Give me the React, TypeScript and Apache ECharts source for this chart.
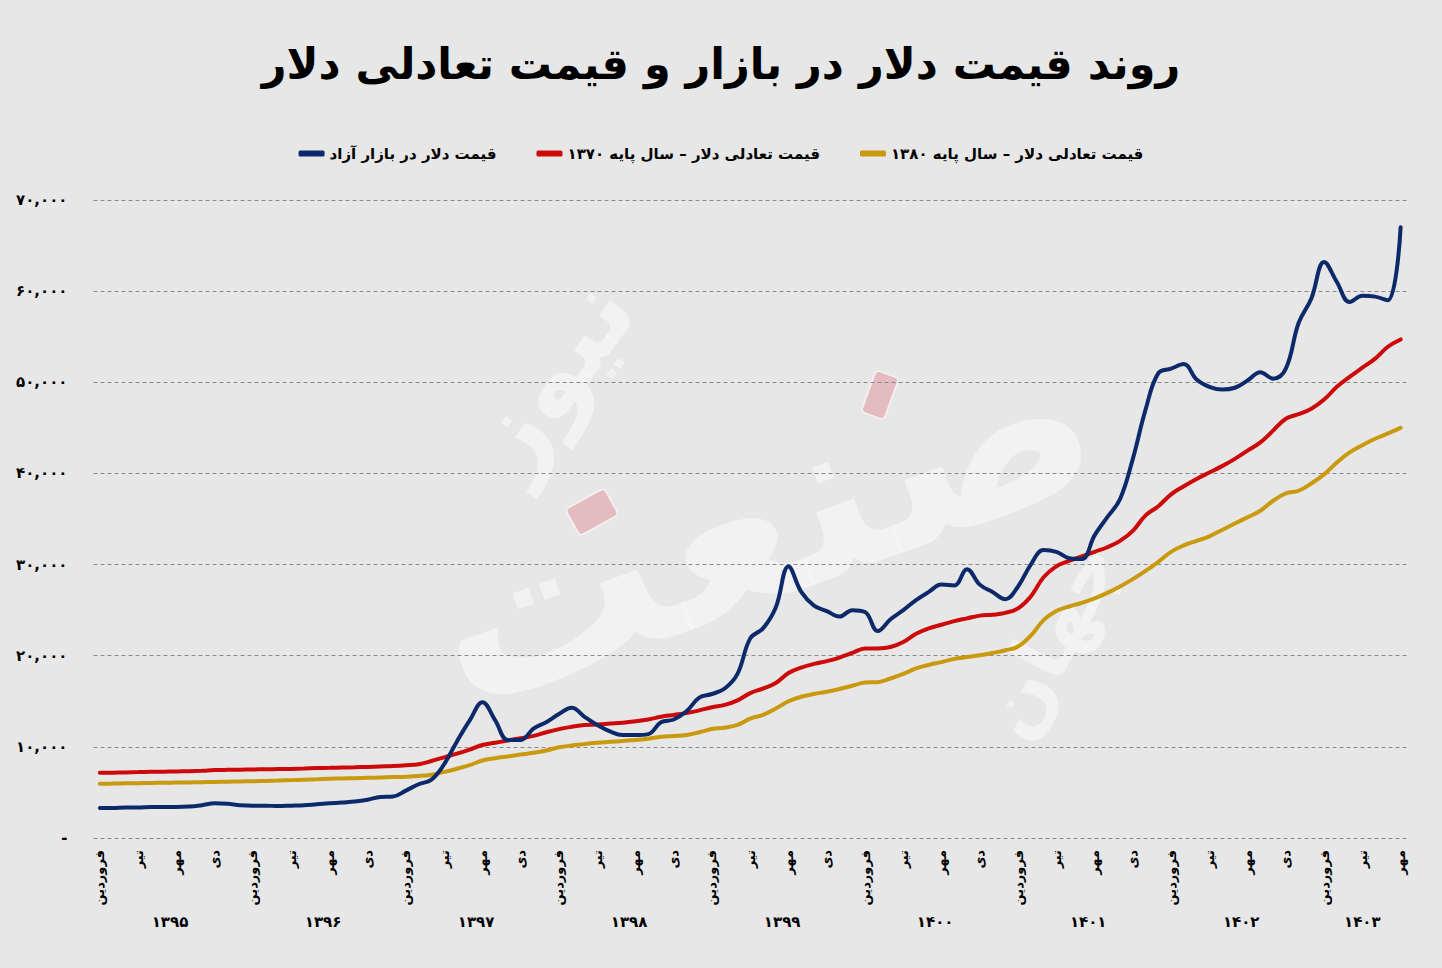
import React, { useEffect, useRef } from 'react';
import * as echarts from 'echarts';

const YEARS = [1395, 1396, 1397, 1398, 1399, 1400, 1401, 1402, 1403];
const MONTHS = ['فروردین', 'اردیبهشت', 'خرداد', 'تیر', 'مرداد', 'شهریور', 'مهر', 'آبان', 'آذر', 'دی', 'بهمن', 'اسفند'];
const LAST_YEAR_MONTHS = 7;

const TITLE = 'روند قیمت دلار در بازار و قیمت تعادلی دلار';
const SERIES_NAMES = [
  'قیمت دلار در بازار آزاد',
  'قیمت تعادلی دلار – سال پایه ۱۳۷۰',
  'قیمت تعادلی دلار – سال پایه ۱۳۸۰',
];
const COLORS = ['#0c2a6a', '#cc0a0a', '#c99a0e'];
const WATERMARK = ['صنعت', 'نیوز', 'جهان'];

const Y_MIN = 0;
const Y_MAX = 70000;
const Y_INTERVAL = 10000;

// free market dollar price (monthly, 1395/01 .. 1403/07)
const marketPrice = [
  3300, 3300, 3350, 3350, 3400, 3400, 3400, 3450, 3600, 3800, 3750, 3600,
  3550, 3550, 3500, 3550, 3600, 3700, 3800, 3900, 4000, 4200, 4500, 4550,
  5200, 5900, 6400, 8100, 10600, 12900, 14900, 12900, 10750, 10750, 12000, 12700,
  13600, 14300, 13300, 12400, 11700, 11300, 11300, 11400, 12700, 13000, 13900, 15400,
  15800, 16400, 18000, 21900, 23000, 25300, 29800, 27000, 25500, 24900, 24300, 25000,
  24800, 22700, 24000, 25000, 26100, 27000, 27800, 27700, 29500, 27800, 27000, 26200,
  27600, 30000, 31600, 31400, 30700, 30600, 33200, 35200, 37200, 41600, 47000, 51000,
  51500, 52000, 50300, 49500, 49200, 49400, 50200, 51100, 50400, 51500, 56500, 59200,
  63200, 61000, 58800, 59500, 59400, 59000, 67000,
];

// equilibrium price, base year 1370
const equilibrium1370 = [
  7150, 7170, 7200, 7230, 7260, 7280, 7300, 7330, 7380, 7450, 7480, 7500,
  7520, 7540, 7560, 7580, 7620, 7670, 7700, 7730, 7760, 7800, 7850, 7900,
  7980, 8100, 8450, 8850, 9250, 9700, 10200, 10450, 10700, 10950, 11200, 11600,
  11950, 12200, 12400, 12450, 12550, 12650, 12800, 13000, 13300, 13500, 13700, 14000,
  14350, 14600, 15100, 15900, 16400, 17000, 18100, 18700, 19100, 19400, 19800, 20300,
  20800, 20800, 20950, 21500, 22400, 23000, 23400, 23800, 24100, 24400, 24500, 24700,
  25200, 26500, 28600, 29800, 30400, 30900, 31400, 31900, 32600, 33700, 35400, 36400,
  37700, 38600, 39400, 40100, 40800, 41600, 42500, 43400, 44700, 46000, 46500, 47100,
  48100, 49500, 50600, 51600, 52600, 53900, 54700,
];

// equilibrium price, base year 1380
const equilibrium1380 = [
  5950, 5970, 6000, 6020, 6040, 6060, 6080, 6100, 6120, 6150, 6180, 6200,
  6230, 6260, 6300, 6350, 6400, 6450, 6500, 6530, 6560, 6600, 6640, 6680,
  6720, 6800, 6950, 7250, 7600, 8000, 8500, 8750, 8950, 9150, 9350, 9600,
  9950, 10150, 10300, 10450, 10550, 10650, 10750, 10900, 11100, 11200, 11300, 11600,
  11950, 12100, 12400, 13100, 13500, 14200, 15000, 15500, 15800, 16050, 16350, 16700,
  17050, 17100, 17500, 18000, 18600, 19000, 19300, 19650, 19850, 20050, 20300, 20600,
  21000, 22200, 23900, 24900, 25400, 25800, 26300, 26900, 27600, 28400, 29300, 30300,
  31400, 32100, 32600, 33100, 33800, 34500, 35200, 35900, 37000, 37800, 38100, 38900,
  39900, 41200, 42300, 43100, 43800, 44400, 45000,
];

const FA_DIGITS = '۰۱۲۳۴۵۶۷۸۹';
const toFa = (s: string) => s.replace(/\d/g, (d) => FA_DIGITS[Number(d)]);

const categories: string[] = [];
const yearCenters: { pos: number; label: string }[] = [];
YEARS.forEach((y, k) => {
  const n = k === YEARS.length - 1 ? LAST_YEAR_MONTHS : 12;
  const start = categories.length;
  for (let m = 0; m < n; m++) categories.push(MONTHS[m]);
  yearCenters.push({ pos: start + (n - 1) / 2, label: toFa(String(y)) });
});

const FONT = 'DejaVu Sans';

const wmStyle = (fontSize: number) => ({
  fontFamily: FONT,
  fontSize,
  fontWeight: 'bold',
  fill: 'rgba(245,245,245,0.75)',
  shadowColor: 'rgba(0,0,0,0.12)',
  shadowBlur: 8,
  shadowOffsetX: 2,
  shadowOffsetY: 3,
});

const pinkStyle = {
  fill: 'rgba(226,160,165,0.6)',
  stroke: 'rgba(255,255,255,0.7)',
  lineWidth: 1.5,
};

export default function App() {
  const ref = useRef<HTMLDivElement>(null);

  useEffect(() => {
    document.body.style.margin = '0';
    const el = ref.current;
    if (!el) return;
    const chart = echarts.init(el, undefined, { renderer: 'svg' });
    const lastIdx = categories.length - 1;
    chart.setOption({
      animation: false,
      backgroundColor: '#e7e7e7',
      textStyle: { fontFamily: FONT },
      title: {
        text: TITLE,
        left: 'center',
        top: 37,
        textStyle: { fontFamily: FONT, fontSize: 43, fontWeight: 'bold', color: '#000' },
      },
      graphic: [
        {
          type: 'text',
          z: 0,
          silent: true,
          x: 760,
          y: 520,
          rotation: 0.35,
          style: { ...wmStyle(230), text: WATERMARK[0], align: 'center', verticalAlign: 'middle' },
        },
        {
          type: 'text',
          z: 0,
          silent: true,
          x: 550,
          y: 375,
          rotation: 0.95,
          style: { ...wmStyle(105), text: WATERMARK[1], align: 'center', verticalAlign: 'middle' },
        },
        {
          type: 'text',
          z: 0,
          silent: true,
          x: 1050,
          y: 640,
          rotation: 1.1,
          style: { ...wmStyle(80), text: WATERMARK[2], align: 'center', verticalAlign: 'middle' },
        },
        {
          type: 'rect',
          z: 0,
          silent: true,
          x: 880,
          y: 395,
          rotation: -0.35,
          shape: { x: -12, y: -22, width: 24, height: 44, r: 4 },
          style: pinkStyle,
        },
        {
          type: 'rect',
          z: 0,
          silent: true,
          x: 592,
          y: 512,
          rotation: 0.5,
          shape: { x: -22, y: -15, width: 44, height: 30, r: 4 },
          style: pinkStyle,
        },
      ],
      legend: {
        top: 141,
        left: 'center',
        itemGap: 40,
        itemWidth: 26,
        itemHeight: 6,
        icon: 'roundRect',
        data: SERIES_NAMES,
        textStyle: { fontFamily: FONT, fontSize: 15, fontWeight: 'bold', color: '#000' },
      },
      grid: { left: 93.5, right: 35, top: 200, bottom: 130, containLabel: false },
      xAxis: [
        {
          type: 'category',
          data: categories,
          boundaryGap: true,
          axisLine: { show: false },
          axisTick: { show: false },
          splitLine: { show: false },
          axisLabel: {
            rotate: 90,
            interval: (i: number) => i % 3 === 0,
            margin: 12,
            fontFamily: FONT,
            fontSize: 13,
            fontWeight: 'bold',
            color: '#000',
          },
        },
        {
          type: 'value',
          position: 'bottom',
          min: -0.5,
          max: lastIdx + 0.5,
          interval: 0.5,
          axisLine: { show: false },
          axisTick: { show: false },
          splitLine: { show: false },
          axisLabel: {
            margin: 76,
            showMinLabel: true,
            showMaxLabel: true,
            fontFamily: FONT,
            fontSize: 15,
            fontWeight: 'bold',
            color: '#000',
            formatter: (v: number) => {
              const c = yearCenters.find((yc) => Math.abs(yc.pos - v) < 0.01);
              return c ? c.label : '';
            },
          },
        },
      ],
      yAxis: {
        type: 'value',
        min: Y_MIN,
        max: Y_MAX,
        interval: Y_INTERVAL,
        axisLine: { show: false },
        axisTick: { show: false },
        splitLine: { show: true, lineStyle: { color: '#8a8a8a', type: [4, 3], width: 1 } },
        axisLabel: {
          margin: 26,
          fontFamily: FONT,
          fontSize: 15,
          fontWeight: 'bold',
          color: '#000',
          formatter: (v: number) => (v === 0 ? '-' : toFa(v.toLocaleString('en-US'))),
        },
      },
      series: [marketPrice, equilibrium1370, equilibrium1380].map((d, k) => ({
        name: SERIES_NAMES[k],
        type: 'line',
        xAxisIndex: 0,
        data: d,
        smooth: 0.4,
        symbol: 'none',
        lineStyle: { width: 4, color: COLORS[k], cap: 'round' },
        itemStyle: { color: COLORS[k] },
        z: 3 - k,
      })),
    });
    return () => chart.dispose();
  }, []);

  return <div ref={ref} style={{ width: 1442, height: 968 }} />;
}
